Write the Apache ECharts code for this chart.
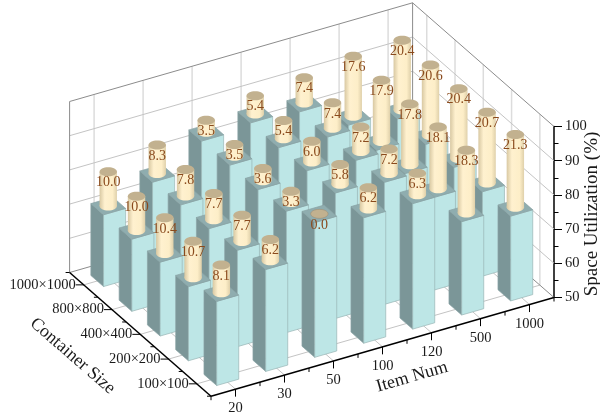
<!DOCTYPE html>
<html>
<head>
<meta charset="utf-8">
<style>
html, body { margin: 0; padding: 0; background: #fff; }
#chart { width: 600px; height: 419px; }
</style>
<script src="https://cdn.jsdelivr.net/npm/echarts@6/dist/echarts.min.js"></script>
</head>
<body>
<div id="chart"></div>
<script>
var itemNums = ['20', '30', '50', '100', '120', '500', '1000'];
var containerSizes = ['100×100', '200×200', '400×400', '800×800', '1000×1000'];
var zTicks = [50, 60, 70, 80, 90, 100];

// lower bar tops
var base100 = [74.6, 79.8, 89.4, 86.7, 86.7, 77.3, 74.8];
var base200 = [71.7, 78.2, 85.5, 86.7, 85.7, 77.1, 74.7];
var base400 = [71.6, 77.3, 84.6, 86.0, 84.9, 76.9, 74.6];
var base800 = [71.1, 77.0, 84.5, 85.5, 84.5, 76.5, 74.1];
var base1000 = [71.0, 76.4, 84.3, 85.5, 84.6, 76.6, 74.3];

// cylinder heights, same as the printed labels
var gain100 = [8.1, 6.2, 0.0, 6.2, 6.3, 18.3, 21.3];
var gain200 = [10.7, 7.7, 3.3, 5.8, 7.2, 18.1, 20.7];
var gain400 = [10.4, 7.7, 3.6, 6.0, 7.2, 17.8, 20.4];
var gain800 = [10.0, 7.8, 3.5, 5.4, 7.4, 17.9, 20.6];
var gain1000 = [10.0, 8.3, 3.5, 5.4, 7.4, 17.6, 20.4];

var baseRows = [base100, base200, base400, base800, base1000];
var gainRows = [gain100, gain200, gain400, gain800, gain1000];

var FONT = '"Liberation Serif", "Times New Roman", serif';
var nItem = itemNums.length;
var nSize = containerSizes.length;

// oblique projection, anchored on the real z axis at the right corner
var U = [49, -14.1];
var V = [-28.28, -24.74];
var AXIS_X = 554;
var BAR_HALF = 0.225;

function project(api, u, v, z) {
    return [
        AXIS_X + (u - nItem) * U[0] + v * V[0],
        api.coord([nItem, z])[1] + (u - nItem) * U[1] + v * V[1]
    ];
}

function line(p, q, color, width) {
    return {
        type: 'line',
        shape: { x1: p[0], y1: p[1], x2: q[0], y2: q[1] },
        style: { stroke: color, lineWidth: width }
    };
}

function poly(points, fill, stroke) {
    return {
        type: 'polygon',
        shape: { points: points },
        style: { fill: fill, stroke: stroke, lineWidth: 0.7 }
    };
}

function label(text, x, y, size, align, rotation, color) {
    return {
        type: 'text',
        x: x,
        y: y,
        rotation: rotation || 0,
        style: {
            text: text,
            fontFamily: FONT,
            fontSize: size,
            align: align || 'center',
            verticalAlign: 'middle',
            fill: color || '#1a1a1a'
        }
    };
}

function renderFrame(params, api) {
    var out = [];
    var wallColor = '#c4c4c4';
    var edgeColor = '#8c8c8c';
    var P = function (u, v, z) { return project(api, u, v, z); };
    var i, j, k;

    // floor and wall grid
    for (i = 0; i < nItem; i++) {
        out.push(line(P(i + 0.5, 0, 50), P(i + 0.5, nSize, 50), wallColor, 1));
        out.push(line(P(i + 0.5, nSize, 50), P(i + 0.5, nSize, 100), '#dcdcdc', 1.5));
    }
    for (j = 0; j < nSize; j++) {
        out.push(line(P(0, j + 0.5, 50), P(nItem, j + 0.5, 50), wallColor, 1));
        out.push(line(P(nItem, j + 0.5, 50), P(nItem, j + 0.5, 100), '#dcdcdc', 1.5));
    }
    for (k = 1; k < zTicks.length - 1; k++) {
        out.push(line(P(0, nSize, zTicks[k]), P(nItem, nSize, zTicks[k]), wallColor, 1));
        out.push(line(P(nItem, nSize, zTicks[k]), P(nItem, 0, zTicks[k]), wallColor, 1));
    }

    // wall outline
    out.push(line(P(0, nSize, 50), P(nItem, nSize, 50), edgeColor, 1));
    out.push(line(P(nItem, nSize, 50), P(nItem, 0, 50), edgeColor, 1));
    out.push(line(P(0, nSize, 50), P(0, nSize, 100), edgeColor, 1));
    out.push(line(P(nItem, nSize, 50), P(nItem, nSize, 100), edgeColor, 1));
    out.push(line(P(0, nSize, 100), P(nItem, nSize, 100), edgeColor, 1));
    out.push(line(P(nItem, nSize, 100), P(nItem, 0, 100), edgeColor, 1));

    // item axis, along the front right edge
    out.push(line(P(0, 0, 50), P(nItem, 0, 50), '#000', 1.5));
    for (i = 0; i <= nItem; i++) {
        var a = P(i, 0, 50);
        out.push(line(a, [a[0], a[1] + 4], '#000', 1));
    }
    itemNums.forEach(function (name, idx) {
        var a = P(idx + 0.5, 0, 50);
        out.push(line(a, [a[0], a[1] + 7.5], '#000', 1));
        out.push(label(name, a[0], a[1] + 19.5, 14.5));
    });

    // size axis, along the front left edge
    out.push(line(P(0, 0, 50), P(0, nSize, 50), '#000', 1.5));
    for (j = 0; j <= nSize; j++) {
        var b = P(0, j, 50);
        out.push(line(b, [b[0] - 4, b[1]], '#000', 1));
    }
    containerSizes.forEach(function (name, idx) {
        var b = P(0, idx + 0.5, 50);
        out.push(line(b, [b[0] - 8, b[1]], '#000', 1));
        out.push(label(name, b[0] - 8, b[1], 14.5, 'right'));
    });

    out.push(label('Container Size', 72.5, 356, 18, 'center', -41 * Math.PI / 180));
    out.push(label('Item Num', 412, 377, 18, 'center', 16 * Math.PI / 180));
    out.push(label('Space Utilization (%)', 592, 214, 19, 'center', Math.PI / 2));

    return { type: 'group', children: out };
}

function renderBar(params, api) {
    var i = api.value(0);
    var j = api.value(1);
    var top = api.value(2);
    var gain = api.value(3);
    var u = i + 0.5;
    var v = j + 0.5;
    var h = BAR_HALF;
    var P = function (du, dv, z) { return project(api, u + du, v + dv, z); };
    var c = P(0, 0, top);
    var capY = project(api, u, v, top + gain)[1];
    var rx = 8.7;
    var ry = 4.5;
    var body = new echarts.graphic.LinearGradient(0, 0, 1, 0, [
        { offset: 0, color: '#d8c8a2' },
        { offset: 0.3, color: '#fff1cf' },
        { offset: 0.75, color: '#fdeec8' },
        { offset: 1, color: '#dfd0aa' }
    ]);
    var children = [
        poly([P(-h, h, 50), P(-h, -h, 50), P(-h, -h, top), P(-h, h, top)], '#7b9698', '#8aa3a5'),
        poly([P(-h, -h, 50), P(h, -h, 50), P(h, -h, top), P(-h, -h, top)], '#bde6e6', '#98b4b4'),
        poly([P(-h, -h, top), P(h, -h, top), P(h, h, top), P(-h, h, top)], '#8fadaf', '#8aa3a5')
    ];
    if (gain > 0) {
        children.push({
            type: 'ellipse',
            shape: { cx: c[0], cy: c[1], rx: rx, ry: ry },
            style: { fill: body }
        });
        children.push({
            type: 'rect',
            shape: { x: c[0] - rx, y: capY, width: rx * 2, height: c[1] - capY },
            style: { fill: body }
        });
    }
    children.push({
        type: 'ellipse',
        shape: { cx: c[0], cy: capY, rx: rx, ry: ry },
        style: { fill: '#c2b18f', stroke: gain > 0 ? null : '#9a8f78', lineWidth: 0.6 }
    });
    children.push(label(gain.toFixed(1), c[0], capY + 11, 14, 'center', 0, '#8a4a1c'));
    return { type: 'group', children: children };
}

// far bars first so the near ones paint over them
var barData = [];
for (var j = nSize - 1; j >= 0; j--) {
    for (var i = nItem - 1; i >= 0; i--) {
        barData.push([i, j, baseRows[j][i], gainRows[j][i]]);
    }
}

var chart = echarts.init(document.getElementById('chart'), null, { renderer: 'canvas' });
chart.setOption({
    animation: false,
    backgroundColor: '#fff',
    grid: { left: 210, right: 46, top: 126.5, height: 171, containLabel: false },
    xAxis: { type: 'value', min: 0, max: nItem, show: false },
    yAxis: {
        type: 'value',
        position: 'right',
        min: zTicks[0],
        max: zTicks[zTicks.length - 1],
        interval: 10,
        axisLine: { show: true, onZero: false, lineStyle: { color: '#000', width: 1.5 } },
        axisTick: { show: true, length: 8, lineStyle: { color: '#000', width: 1 } },
        minorTick: { show: true, splitNumber: 2, length: 4.5, lineStyle: { color: '#000', width: 1 } },
        splitLine: { show: false },
        axisLabel: { color: '#1a1a1a', fontFamily: FONT, fontSize: 14.5, margin: 11 }
    },
    series: [
        {
            type: 'custom',
            silent: true,
            clip: false,
            renderItem: renderFrame,
            data: [[0, 50]],
            encode: { x: 0, y: 1 }
        },
        {
            type: 'custom',
            silent: true,
            clip: false,
            renderItem: renderBar,
            data: barData,
            encode: { x: 0, y: 2 },
            z: 3
        }
    ]
});
</script>
</body>
</html>
